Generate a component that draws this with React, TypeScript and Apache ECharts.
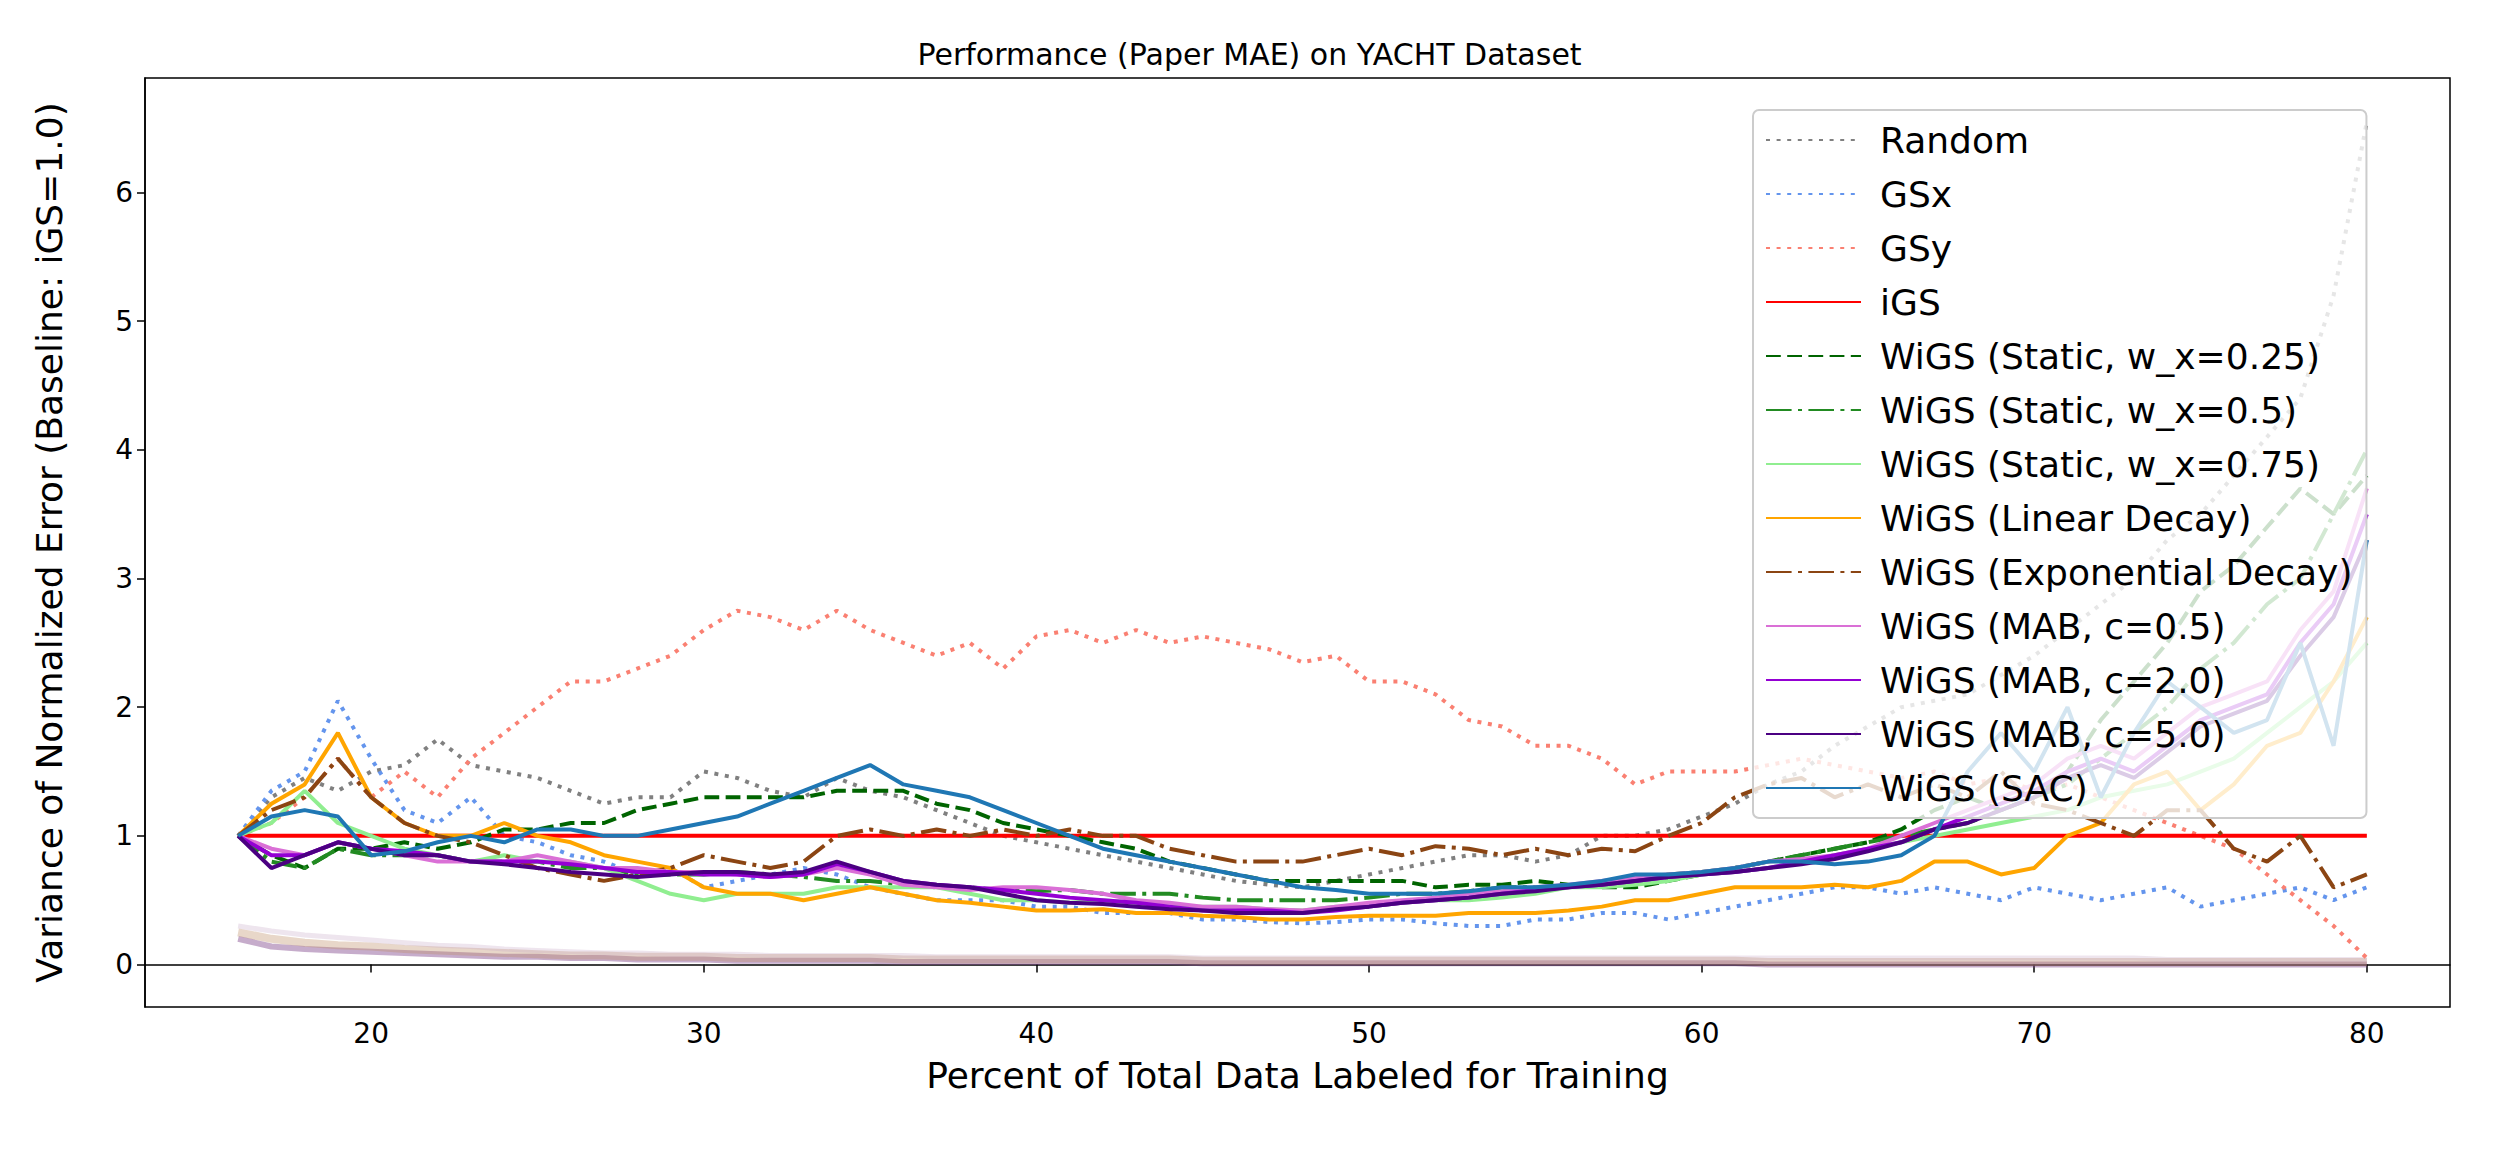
import { useRef, useEffect } from 'react'
import * as echarts from 'echarts'

const xs = Array.from({ length: 65 }, (_, i) => 16 + i);

const random = [1.0, 1.3, 1.45, 1.35, 1.5, 1.55, 1.75, 1.55, 1.5, 1.45, 1.35, 1.25, 1.3, 1.3, 1.5, 1.45, 1.35, 1.3, 1.45, 1.35, 1.3, 1.2, 1.1, 1.0, 0.95, 0.9, 0.85, 0.8, 0.75, 0.7, 0.65, 0.62, 0.6, 0.65, 0.7, 0.75, 0.8, 0.85, 0.85, 0.8, 0.85, 1.0, 1.0, 1.05, 1.15, 1.25, 1.4, 1.5, 1.7, 1.85, 2.0, 2.05, 2.1, 2.25, 2.4, 2.6, 2.8, 3.0, 3.3, 3.5, 3.8, 4.1, 4.4, 5.2, 6.55];
const gsx = [1.0, 1.35, 1.5, 2.05, 1.6, 1.2, 1.1, 1.3, 1.0, 0.95, 0.85, 0.8, 0.7, 0.75, 0.6, 0.65, 0.7, 0.75, 0.7, 0.6, 0.55, 0.5, 0.5, 0.5, 0.45, 0.45, 0.4, 0.4, 0.4, 0.35, 0.35, 0.33, 0.32, 0.33, 0.35, 0.35, 0.32, 0.3, 0.3, 0.35, 0.35, 0.4, 0.4, 0.35, 0.4, 0.45, 0.5, 0.55, 0.6, 0.6, 0.55, 0.6, 0.55, 0.5, 0.6, 0.55, 0.5, 0.55, 0.6, 0.45, 0.5, 0.55, 0.6, 0.5, 0.6];
const gsy = [1.0, 1.1, 1.3, 1.6, 1.3, 1.5, 1.3, 1.6, 1.8, 2.0, 2.2, 2.2, 2.3, 2.4, 2.6, 2.75, 2.7, 2.6, 2.75, 2.6, 2.5, 2.4, 2.5, 2.3, 2.55, 2.6, 2.5, 2.6, 2.5, 2.55, 2.5, 2.45, 2.35, 2.4, 2.2, 2.2, 2.1, 1.9, 1.85, 1.7, 1.7, 1.6, 1.4, 1.5, 1.5, 1.5, 1.55, 1.6, 1.55, 1.5, 1.45, 1.5, 1.4, 1.45, 1.35, 1.4, 1.3, 1.2, 1.1, 1.0, 0.9, 0.7, 0.5, 0.3, 0.05];
const igs = xs.map(() => 1.0);
const static25 = [1.0, 0.85, 0.75, 0.9, 0.9, 0.95, 0.9, 0.95, 1.05, 1.05, 1.1, 1.1, 1.2, 1.25, 1.3, 1.3, 1.3, 1.3, 1.35, 1.35, 1.35, 1.25, 1.2, 1.1, 1.05, 1.0, 0.95, 0.9, 0.8, 0.75, 0.7, 0.65, 0.65, 0.65, 0.65, 0.65, 0.6, 0.62, 0.62, 0.65, 0.62, 0.6, 0.6, 0.65, 0.7, 0.75, 0.8, 0.85, 0.9, 0.95, 1.05, 1.2, 1.3, 1.2, 1.3, 1.5, 1.9, 2.2, 2.5, 2.9, 3.1, 3.4, 3.7, 3.5, 3.8];
const static50 = [1.0, 0.8, 0.75, 0.9, 0.85, 0.85, 0.85, 0.8, 0.8, 0.8, 0.75, 0.75, 0.7, 0.7, 0.7, 0.72, 0.7, 0.68, 0.65, 0.65, 0.62, 0.6, 0.6, 0.58, 0.57, 0.58, 0.55, 0.55, 0.55, 0.52, 0.5, 0.5, 0.5, 0.5, 0.52, 0.55, 0.55, 0.57, 0.6, 0.6, 0.6, 0.62, 0.65, 0.7, 0.72, 0.75, 0.8, 0.85, 0.9, 0.95, 1.0, 1.05, 1.1, 1.2, 1.3, 1.4, 1.6, 1.8, 2.0, 2.3, 2.5, 2.8, 3.0, 3.5, 4.0];
const static75 = [1.0, 1.1, 1.35, 1.1, 1.0, 0.9, 0.85, 0.8, 0.85, 0.8, 0.8, 0.75, 0.65, 0.55, 0.5, 0.55, 0.55, 0.55, 0.6, 0.6, 0.6, 0.6, 0.55, 0.5, 0.5, 0.48, 0.5, 0.48, 0.45, 0.45, 0.45, 0.43, 0.42, 0.45, 0.45, 0.48, 0.5, 0.5, 0.52, 0.55, 0.6, 0.6, 0.62, 0.65, 0.7, 0.72, 0.75, 0.8, 0.85, 0.9, 0.95, 1.0, 1.05, 1.1, 1.15, 1.2, 1.3, 1.35, 1.4, 1.5, 1.6, 1.8, 2.0, 2.2, 2.5];
const linearDecay = [1.0, 1.25, 1.4, 1.8, 1.3, 1.1, 1.0, 1.0, 1.1, 1.0, 0.95, 0.85, 0.8, 0.75, 0.6, 0.55, 0.55, 0.5, 0.55, 0.6, 0.55, 0.5, 0.48, 0.45, 0.42, 0.42, 0.43, 0.4, 0.4, 0.38, 0.37, 0.35, 0.35, 0.37, 0.38, 0.38, 0.38, 0.4, 0.4, 0.4, 0.42, 0.45, 0.5, 0.5, 0.55, 0.6, 0.6, 0.6, 0.62, 0.6, 0.65, 0.8, 0.8, 0.7, 0.75, 1.0, 1.1, 1.4, 1.5, 1.2, 1.4, 1.7, 1.8, 2.2, 2.7];
const expDecay = [1.0, 1.2, 1.3, 1.6, 1.3, 1.1, 1.0, 0.95, 0.85, 0.75, 0.7, 0.65, 0.7, 0.75, 0.85, 0.8, 0.75, 0.8, 1.0, 1.05, 1.0, 1.05, 1.0, 1.05, 1.0, 1.05, 1.0, 1.0, 0.9, 0.85, 0.8, 0.8, 0.8, 0.85, 0.9, 0.85, 0.92, 0.9, 0.85, 0.9, 0.85, 0.9, 0.88, 1.0, 1.1, 1.3, 1.4, 1.45, 1.3, 1.4, 1.3, 1.4, 1.3, 1.5, 1.25, 1.2, 1.1, 1.0, 1.2, 1.2, 0.9, 0.8, 1.0, 0.6, 0.7];
const mab05 = [1.0, 0.9, 0.85, 0.95, 0.9, 0.85, 0.8, 0.8, 0.8, 0.85, 0.8, 0.75, 0.75, 0.72, 0.72, 0.7, 0.68, 0.7, 0.75, 0.7, 0.62, 0.6, 0.58, 0.6, 0.6, 0.58, 0.55, 0.5, 0.48, 0.45, 0.45, 0.43, 0.42, 0.45, 0.48, 0.5, 0.52, 0.55, 0.57, 0.6, 0.62, 0.65, 0.68, 0.7, 0.72, 0.75, 0.8, 0.82, 0.85, 0.9, 1.0, 1.1, 1.2, 1.3, 1.4, 1.6, 1.7, 1.6, 1.8, 2.0, 2.1, 2.2, 2.6, 2.9, 3.7];
const mab20 = [1.0, 0.85, 0.85, 0.95, 0.9, 0.88, 0.85, 0.8, 0.8, 0.8, 0.78, 0.75, 0.72, 0.72, 0.7, 0.7, 0.68, 0.7, 0.78, 0.72, 0.65, 0.62, 0.6, 0.58, 0.55, 0.52, 0.5, 0.48, 0.45, 0.42, 0.42, 0.42, 0.4, 0.42, 0.45, 0.48, 0.5, 0.52, 0.55, 0.58, 0.6, 0.62, 0.65, 0.68, 0.7, 0.72, 0.75, 0.8, 0.85, 0.9, 0.95, 1.05, 1.15, 1.25, 1.35, 1.5, 1.6, 1.5, 1.7, 1.9, 2.0, 2.1, 2.5, 2.8, 3.5];
const mab50 = [1.0, 0.75, 0.85, 0.95, 0.9, 0.85, 0.85, 0.8, 0.78, 0.75, 0.72, 0.7, 0.68, 0.7, 0.72, 0.72, 0.7, 0.72, 0.8, 0.72, 0.65, 0.62, 0.6, 0.55, 0.5, 0.48, 0.47, 0.45, 0.43, 0.42, 0.4, 0.4, 0.4, 0.43, 0.45, 0.48, 0.5, 0.52, 0.55, 0.57, 0.6, 0.62, 0.65, 0.68, 0.7, 0.72, 0.75, 0.78, 0.82, 0.88, 0.95, 1.05, 1.1, 1.2, 1.3, 1.45, 1.55, 1.45, 1.65, 1.85, 1.95, 2.05, 2.4, 2.7, 3.3];
const sac = [1.0, 1.15, 1.2, 1.15, 0.85, 0.88, 0.95, 1.0, 0.95, 1.05, 1.05, 1.0, 1.0, 1.05, 1.1, 1.15, 1.25, 1.35, 1.45, 1.55, 1.4, 1.35, 1.3, 1.2, 1.1, 1.0, 0.9, 0.85, 0.8, 0.75, 0.7, 0.65, 0.6, 0.58, 0.55, 0.55, 0.55, 0.57, 0.6, 0.6, 0.62, 0.65, 0.7, 0.7, 0.72, 0.75, 0.8, 0.8, 0.78, 0.8, 0.85, 1.0, 1.5, 1.8, 1.5, 2.0, 1.3, 1.8, 2.2, 2.0, 1.8, 1.9, 2.5, 1.7, 3.3];

// faint variance band near zero
const bandLow = [0.2, 0.14, 0.12, 0.11, 0.1, 0.09, 0.08, 0.07, 0.06, 0.06, 0.05, 0.05, 0.04, 0.04, 0.04, 0.03, 0.03, 0.03, 0.03, 0.03, 0.02, 0.02, 0.02, 0.02, 0.02, 0.02, 0.02, 0.02, 0.02, 0.01, 0.01, 0.01, 0.01, 0.01, 0.01, 0.01, 0.01, 0.01, 0.01, 0.01, 0.01, 0.01, 0.01, 0.01, 0.01, 0.01, 0.0, 0.0, 0.0, 0.0, 0.0, 0.0, 0.0, 0.0, 0.0, 0.0, 0.0, 0.0, 0.0, 0.0, 0.0, 0.0, 0.0, 0.0, 0.0];
const bandMid = [0.25, 0.2, 0.17, 0.15, 0.14, 0.12, 0.11, 0.1, 0.09, 0.08, 0.07, 0.07, 0.06, 0.06, 0.06, 0.05, 0.05, 0.05, 0.05, 0.05, 0.04, 0.04, 0.04, 0.04, 0.04, 0.04, 0.04, 0.04, 0.04, 0.03, 0.03, 0.03, 0.03, 0.03, 0.03, 0.03, 0.03, 0.03, 0.03, 0.03, 0.03, 0.03, 0.03, 0.03, 0.03, 0.03, 0.02, 0.02, 0.02, 0.02, 0.02, 0.02, 0.02, 0.02, 0.02, 0.02, 0.02, 0.02, 0.02, 0.02, 0.02, 0.02, 0.02, 0.02, 0.02];
const bandHigh = [0.3, 0.26, 0.23, 0.21, 0.19, 0.17, 0.15, 0.14, 0.12, 0.11, 0.1, 0.09, 0.09, 0.08, 0.08, 0.08, 0.07, 0.07, 0.07, 0.07, 0.07, 0.06, 0.06, 0.06, 0.06, 0.06, 0.06, 0.06, 0.06, 0.05, 0.05, 0.05, 0.05, 0.05, 0.05, 0.05, 0.05, 0.05, 0.05, 0.05, 0.05, 0.05, 0.05, 0.05, 0.05, 0.05, 0.05, 0.05, 0.05, 0.05, 0.05, 0.05, 0.05, 0.05, 0.05, 0.05, 0.05, 0.05, 0.04, 0.04, 0.04, 0.04, 0.04, 0.04, 0.04];

const xTicks = [20, 30, 40, 50, 60, 70, 80];
const yTicks = [0, 1, 2, 3, 4, 5, 6];

const LW = 4;
const dotted = [LW, LW * 1.65];
const dashed = [LW * 3.7, LW * 1.6];
const dashDot = [LW * 6.4, LW * 1.6, LW, LW * 1.6];

const lines = [
  { name: 'Random', data: random, color: 'grey', type: dotted },
  { name: 'GSx', data: gsx, color: 'cornflowerblue', type: dotted },
  { name: 'GSy', data: gsy, color: 'salmon', type: dotted },
  { name: 'iGS', data: igs, color: 'red', type: 'solid' },
  { name: 'WiGS (Static, w_x=0.25)', data: static25, color: 'darkgreen', type: dashed },
  { name: 'WiGS (Static, w_x=0.5)', data: static50, color: 'forestgreen', type: dashDot },
  { name: 'WiGS (Static, w_x=0.75)', data: static75, color: 'lightgreen', type: 'solid' },
  { name: 'WiGS (Linear Decay)', data: linearDecay, color: 'orange', type: 'solid' },
  { name: 'WiGS (Exponential Decay)', data: expDecay, color: '#8b4513', type: dashDot },
  { name: 'WiGS (MAB, c=0.5)', data: mab05, color: 'orchid', type: 'solid' },
  { name: 'WiGS (MAB, c=2.0)', data: mab20, color: 'darkviolet', type: 'solid' },
  { name: 'WiGS (MAB, c=5.0)', data: mab50, color: 'indigo', type: 'solid' },
  { name: 'WiGS (SAC)', data: sac, color: '#1f77b4', type: 'solid' },
];

function App() {
  const chartRef = useRef<HTMLDivElement>(null);

  useEffect(() => {
    if (!chartRef.current) return;
    const myChart = echarts.init(chartRef.current, null, { renderer: 'svg' });
    const font = 'DejaVu Sans';
    const pairs = (arr: number[]) => xs.map((x, i) => [x, arr[i]]);

    const series: any[] = [
      { arr: bandLow, color: 'rgba(128,70,140,0.45)', w: 6 },
      { arr: bandMid, color: 'rgba(190,140,100,0.35)', w: 8 },
      { arr: bandHigh, color: 'rgba(200,170,200,0.3)', w: 5 },
    ].map((b, i) => ({
      name: 'band' + i, type: 'line', data: pairs(b.arr), symbol: 'none', silent: true, z: 1,
      lineStyle: { color: b.color, width: b.w },
    }));
    lines.forEach(l => {
      series.push({
        name: l.name, type: 'line', data: pairs(l.data), symbol: 'none',
        lineStyle: { color: l.color, width: LW, type: l.type },
        itemStyle: { color: l.color }, z: 2,
      });
    });

    myChart.setOption({
      animation: false,
      textStyle: { fontFamily: font },
      title: {
        text: 'Performance (Paper MAE) on YACHT Dataset', left: 'center', top: 26,
        textStyle: { fontSize: 30, fontWeight: 'normal', color: '#000', fontFamily: font },
      },
      legend: {
        data: lines.map(l => l.name), orient: 'vertical', left: 1745, top: 102,
        backgroundColor: 'rgba(255,255,255,0.8)', borderColor: '#ccc', borderWidth: 2,
        borderRadius: 6, padding: [12, 14, 12, 12], itemWidth: 95, itemHeight: 20, itemGap: 18,
        itemStyle: { opacity: 0 },
        textStyle: { fontSize: 36, color: '#000', fontFamily: font, padding: [0, 0, 0, 14] },
        z: 10,
      },
      grid: { left: 137, right: 41, top: 70, bottom: 151, show: true, borderColor: '#000', borderWidth: 1.5 },
      xAxis: {
        type: 'value', min: 13.2, max: 82.5,
        name: 'Percent of Total Data Labeled for Training', nameLocation: 'middle', nameGap: 50,
        nameTextStyle: { fontSize: 36, color: '#000', fontFamily: font },
        axisLine: { lineStyle: { color: '#000', width: 1.5 } },
        axisTick: { customValues: xTicks, length: 8, lineStyle: { color: '#000', width: 1.5 } },
        axisLabel: { customValues: xTicks, fontSize: 28, color: '#000', margin: 12, fontFamily: font },
        splitLine: { show: false },
      },
      yAxis: {
        type: 'value', min: -0.33, max: 6.89,
        name: 'Variance of Normalized Error (Baseline: iGS=1.0)', nameLocation: 'middle', nameGap: 78,
        nameTextStyle: { fontSize: 36, color: '#000', fontFamily: font },
        axisLine: { lineStyle: { color: '#000', width: 1.5 } },
        axisTick: { customValues: yTicks, length: 8, lineStyle: { color: '#000', width: 1.5 } },
        axisLabel: { customValues: yTicks, fontSize: 28, color: '#000', margin: 12, fontFamily: font },
        splitLine: { show: false },
      },
      series,
    });

    return () => {
      myChart.dispose();
    };
  }, []);

  return <div ref={chartRef} style={{ width: '2483px', height: '1150px' }}></div>;
}

export default App
